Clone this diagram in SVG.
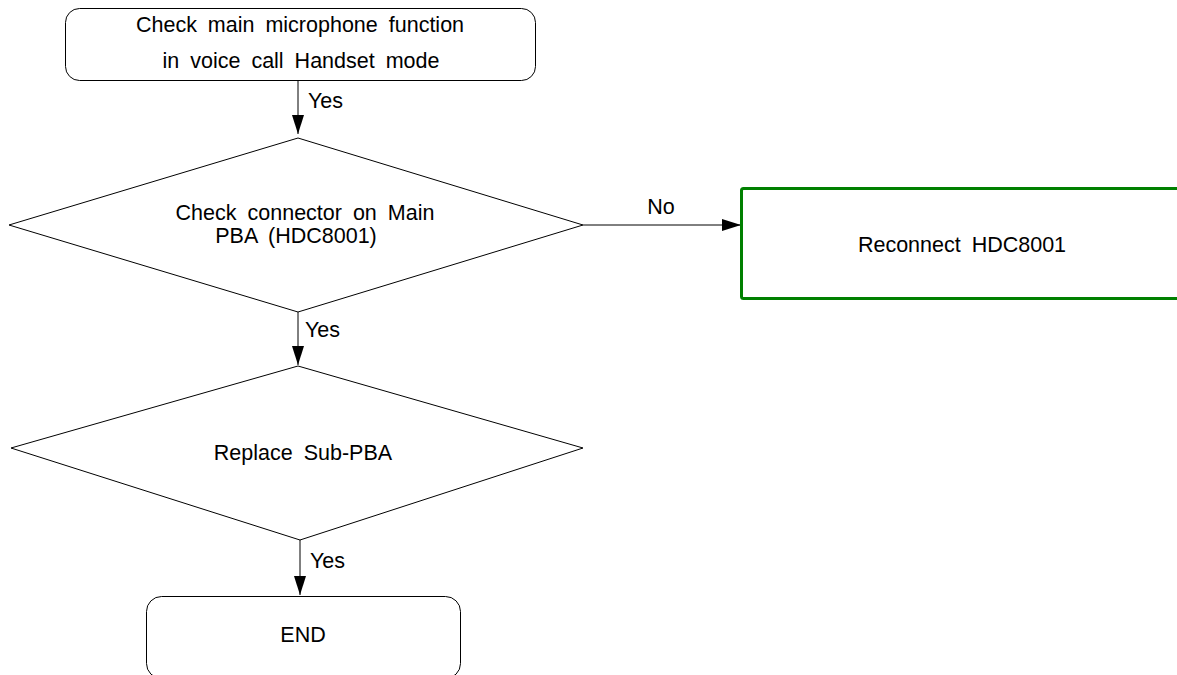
<svg xmlns="http://www.w3.org/2000/svg" width="1177" height="675" viewBox="0 0 1177 675">
<style>
.s{fill:#fff;stroke:#000;stroke-width:1}
.g{fill:#fff;stroke:#008000;stroke-width:3}
text{font-family:"Liberation Sans",Arial,sans-serif;font-size:21.5px;fill:#000;word-spacing:5px}
.c{text-anchor:middle}
.ln{stroke:#000;stroke-width:1;fill:none;marker-end:url(#ah)}
</style>
<defs>
<marker id="ah" markerUnits="userSpaceOnUse" markerWidth="20" markerHeight="14" refX="19" refY="6" orient="auto">
<path d="M0,0 L19,6 L0,12 Z" fill="#000"/>
</marker>
</defs>
<g id="connectors">
<line class="ln" x1="298" y1="81" x2="298" y2="134"/>
<text x="308" y="108">Yes</text>
<line class="ln" x1="583" y1="225" x2="741" y2="225"/>
<text x="661" y="214" class="c">No</text>
<line class="ln" x1="298" y1="312" x2="298" y2="365"/>
<text x="305" y="337">Yes</text>
<line class="ln" x1="300" y1="540" x2="300" y2="595"/>
<text x="310" y="568">Yes</text>
</g>
<g id="start">
<rect class="s" x="65.5" y="8.5" width="470" height="72" rx="14"/>
<text x="300" y="32" class="c">Check main microphone function</text>
<text x="301" y="68" class="c">in voice call Handset mode</text>
</g>
<g id="check-connector">
<polygon class="s" points="298,138 583,225 298,312 9,225"/>
<text x="305" y="220" class="c">Check connector on Main</text>
<text x="296" y="243" class="c">PBA (HDC8001)</text>
</g>
<g id="reconnect">
<rect class="g" x="741.5" y="188.5" width="460" height="110" rx="2"/>
<text x="962" y="252" class="c">Reconnect HDC8001</text>
</g>
<g id="replace-sub">
<polygon class="s" points="298,366 583,448 300,540 11,448"/>
<text x="303" y="460" class="c">Replace Sub-PBA</text>
</g>
<g id="end">
<rect class="s" x="146.5" y="596.5" width="314" height="82" rx="15"/>
<text x="303" y="642" class="c">END</text>
</g>
</svg>
